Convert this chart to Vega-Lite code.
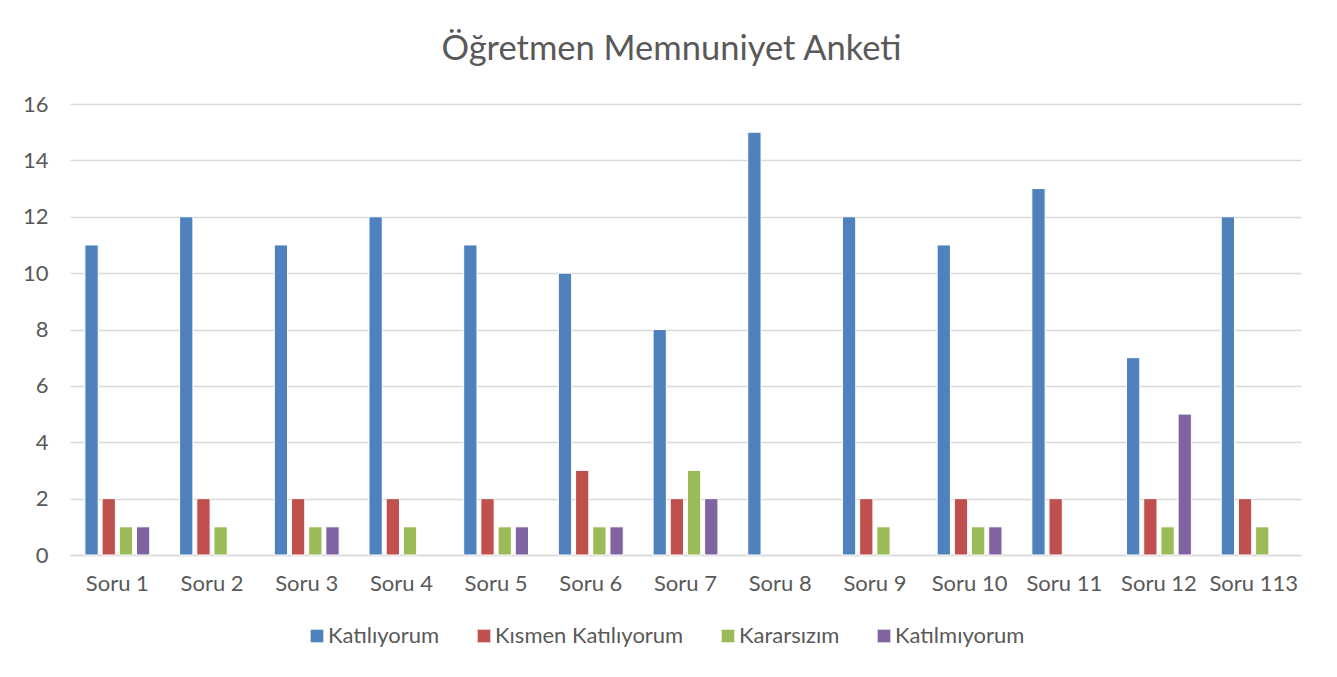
{
  "$schema": "https://vega.github.io/schema/vega-lite/v6.json",
  "autosize": {"type": "none"},
  "width": 1231,
  "height": 451,
  "padding": {"left": 70, "top": 104, "right": 36, "bottom": 122},
  "background": "white",
  "title": {
    "text": "Öğretmen Memnuniyet Anketi",
    "font": "Lato",
    "fontSize": 34.5,
    "fontWeight": "normal",
    "color": "#595959",
    "anchor": "middle",
    "offset": 26,
    "dx": -14
  },
  "data": {
    "values": [
      {"soru": "Soru 1", "cevap": "Katılıyorum", "sayi": 11},
      {"soru": "Soru 1", "cevap": "Kısmen Katılıyorum", "sayi": 2},
      {"soru": "Soru 1", "cevap": "Kararsızım", "sayi": 1},
      {"soru": "Soru 1", "cevap": "Katılmıyorum", "sayi": 1},
      {"soru": "Soru 2", "cevap": "Katılıyorum", "sayi": 12},
      {"soru": "Soru 2", "cevap": "Kısmen Katılıyorum", "sayi": 2},
      {"soru": "Soru 2", "cevap": "Kararsızım", "sayi": 1},
      {"soru": "Soru 2", "cevap": "Katılmıyorum", "sayi": 0},
      {"soru": "Soru 3", "cevap": "Katılıyorum", "sayi": 11},
      {"soru": "Soru 3", "cevap": "Kısmen Katılıyorum", "sayi": 2},
      {"soru": "Soru 3", "cevap": "Kararsızım", "sayi": 1},
      {"soru": "Soru 3", "cevap": "Katılmıyorum", "sayi": 1},
      {"soru": "Soru 4", "cevap": "Katılıyorum", "sayi": 12},
      {"soru": "Soru 4", "cevap": "Kısmen Katılıyorum", "sayi": 2},
      {"soru": "Soru 4", "cevap": "Kararsızım", "sayi": 1},
      {"soru": "Soru 4", "cevap": "Katılmıyorum", "sayi": 0},
      {"soru": "Soru 5", "cevap": "Katılıyorum", "sayi": 11},
      {"soru": "Soru 5", "cevap": "Kısmen Katılıyorum", "sayi": 2},
      {"soru": "Soru 5", "cevap": "Kararsızım", "sayi": 1},
      {"soru": "Soru 5", "cevap": "Katılmıyorum", "sayi": 1},
      {"soru": "Soru 6", "cevap": "Katılıyorum", "sayi": 10},
      {"soru": "Soru 6", "cevap": "Kısmen Katılıyorum", "sayi": 3},
      {"soru": "Soru 6", "cevap": "Kararsızım", "sayi": 1},
      {"soru": "Soru 6", "cevap": "Katılmıyorum", "sayi": 1},
      {"soru": "Soru 7", "cevap": "Katılıyorum", "sayi": 8},
      {"soru": "Soru 7", "cevap": "Kısmen Katılıyorum", "sayi": 2},
      {"soru": "Soru 7", "cevap": "Kararsızım", "sayi": 3},
      {"soru": "Soru 7", "cevap": "Katılmıyorum", "sayi": 2},
      {"soru": "Soru 8", "cevap": "Katılıyorum", "sayi": 15},
      {"soru": "Soru 8", "cevap": "Kısmen Katılıyorum", "sayi": 0},
      {"soru": "Soru 8", "cevap": "Kararsızım", "sayi": 0},
      {"soru": "Soru 8", "cevap": "Katılmıyorum", "sayi": 0},
      {"soru": "Soru 9", "cevap": "Katılıyorum", "sayi": 12},
      {"soru": "Soru 9", "cevap": "Kısmen Katılıyorum", "sayi": 2},
      {"soru": "Soru 9", "cevap": "Kararsızım", "sayi": 1},
      {"soru": "Soru 9", "cevap": "Katılmıyorum", "sayi": 0},
      {"soru": "Soru 10", "cevap": "Katılıyorum", "sayi": 11},
      {"soru": "Soru 10", "cevap": "Kısmen Katılıyorum", "sayi": 2},
      {"soru": "Soru 10", "cevap": "Kararsızım", "sayi": 1},
      {"soru": "Soru 10", "cevap": "Katılmıyorum", "sayi": 1},
      {"soru": "Soru 11", "cevap": "Katılıyorum", "sayi": 13},
      {"soru": "Soru 11", "cevap": "Kısmen Katılıyorum", "sayi": 2},
      {"soru": "Soru 11", "cevap": "Kararsızım", "sayi": 0},
      {"soru": "Soru 11", "cevap": "Katılmıyorum", "sayi": 0},
      {"soru": "Soru 12", "cevap": "Katılıyorum", "sayi": 7},
      {"soru": "Soru 12", "cevap": "Kısmen Katılıyorum", "sayi": 2},
      {"soru": "Soru 12", "cevap": "Kararsızım", "sayi": 1},
      {"soru": "Soru 12", "cevap": "Katılmıyorum", "sayi": 5},
      {"soru": "Soru 113", "cevap": "Katılıyorum", "sayi": 12},
      {"soru": "Soru 113", "cevap": "Kısmen Katılıyorum", "sayi": 2},
      {"soru": "Soru 113", "cevap": "Kararsızım", "sayi": 1},
      {"soru": "Soru 113", "cevap": "Katılmıyorum", "sayi": 0}
    ]
  },
  "transform": [{"filter": "datum.sayi > 0"}],
  "mark": {"type": "bar", "stroke": "white", "strokeWidth": 1},
  "encoding": {
    "x": {
      "field": "soru",
      "type": "nominal",
      "sort": ["Soru 1", "Soru 2", "Soru 3", "Soru 4", "Soru 5", "Soru 6", "Soru 7", "Soru 8", "Soru 9", "Soru 10", "Soru 11", "Soru 12", "Soru 113"],
      "title": null,
      "scale": {"paddingInner": 0.315, "paddingOuter": 0.1575},
      "axis": {
        "labelAngle": 0,
        "labelFont": "Lato",
        "labelFontSize": 22,
        "labelColor": "#595959",
        "labelPadding": 18,
        "ticks": false,
        "domainColor": "#D9D9D9",
        "domainWidth": 1.5
      }
    },
    "xOffset": {
      "field": "cevap",
      "type": "nominal",
      "sort": ["Katılıyorum", "Kısmen Katılıyorum", "Kararsızım", "Katılmıyorum"],
      "scale": {"domain": ["Katılıyorum", "Kısmen Katılıyorum", "Kararsızım", "Katılmıyorum"], "paddingInner": 0.227, "paddingOuter": 0}
    },
    "y": {
      "field": "sayi",
      "type": "quantitative",
      "title": null,
      "scale": {"domain": [0, 16]},
      "axis": {
        "values": [0, 2, 4, 6, 8, 10, 12, 14, 16],
        "labelFont": "Lato",
        "labelFontSize": 22,
        "labelColor": "#595959",
        "labelPadding": 22,
        "ticks": false,
        "domain": false,
        "gridColor": "#D9D9D9",
        "gridWidth": 1.5
      }
    },
    "color": {
      "field": "cevap",
      "type": "nominal",
      "sort": ["Katılıyorum", "Kısmen Katılıyorum", "Kararsızım", "Katılmıyorum"],
      "scale": {
        "domain": ["Katılıyorum", "Kısmen Katılıyorum", "Kararsızım", "Katılmıyorum"],
        "range": ["#4F81BD", "#C0504D", "#9BBB59", "#8064A2"]
      },
      "legend": {
        "title": null,
        "orient": "none",
        "direction": "horizontal",
        "legendX": 236,
        "legendY": 521,
        "symbolType": "square",
        "symbolSize": 160,
        "symbolStrokeWidth": 0,
        "labelFont": "Lato",
        "labelFontSize": 22,
        "labelColor": "#595959",
        "labelOffset": 0,
        "labelLimit": 400,
        "columnPadding": 33
      }
    }
  },
  "config": {"view": {"stroke": null}}
}
